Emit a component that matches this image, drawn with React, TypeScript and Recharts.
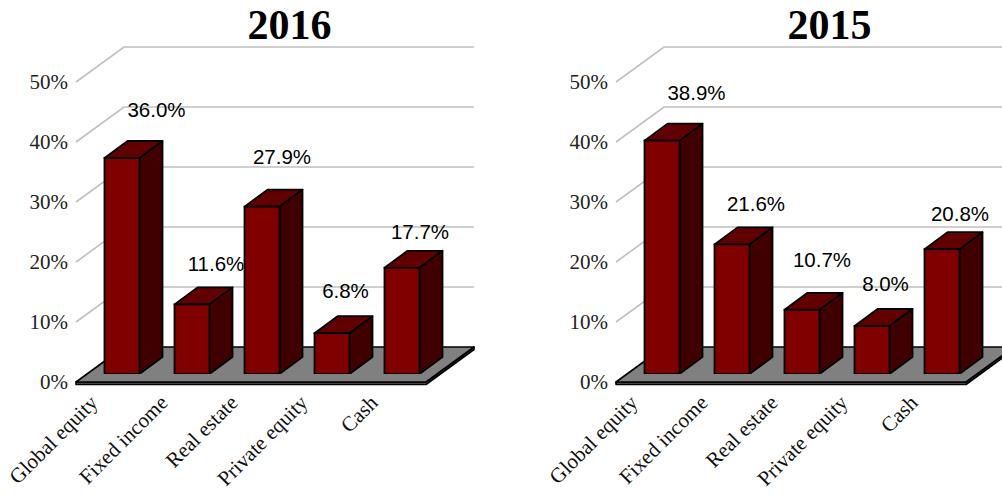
import React from 'react';
import { BarChart, Bar, XAxis, YAxis, CartesianGrid, LabelList } from 'recharts';

// ---- data ----
const categories = ['Global equity', 'Fixed income', 'Real estate', 'Private equity', 'Cash'];
const values2016 = [36.0, 11.6, 27.9, 6.8, 17.7];
const values2015 = [38.9, 21.6, 10.7, 8.0, 20.8];
const yTicks = [0, 10, 20, 30, 40, 50];
const panels = [
  { title: '2016', values: values2016 },
  { title: '2015', values: values2015 },
];

// ---- layout / style ----
const W = 540;
const H = 499;
const MARGIN = { top: 74, right: 103, left: 27, bottom: 0 };
const FLOOR_DX = 48;
const FLOOR_DY = 35;
const FRONT_DX = 11;
const FRONT_DY = 8;
const BAR_DX = 23;
const BAR_DY = 17;
const SLAB = 2.5;
const LABEL_DX = [34.5, 24, 20, 13.5, 18];
const LABEL_DY = [41, 33, 42.5, 35.5, 28.5];
const SERIF = '"Liberation Serif", "Times New Roman", Times, serif';
const SANS = '"Liberation Sans", Arial, Helvetica, sans-serif';

const Box3D = (props: any) => {
  const { x, y, width, height } = props;
  if (x == null || y == null) return null;
  const x2 = x + width;
  const yb = y + height;
  const sw = 1.8;
  return (
    <g>
      <polygon
        points={`${x},${y} ${x + BAR_DX},${y - BAR_DY} ${x2 + BAR_DX},${y - BAR_DY} ${x2},${y}`}
        fill="#600000" stroke="#000" strokeWidth={sw} strokeLinejoin="round"
      />
      <polygon
        points={`${x2},${y} ${x2 + BAR_DX},${y - BAR_DY} ${x2 + BAR_DX},${yb - BAR_DY} ${x2},${yb}`}
        fill="#400000" stroke="#000" strokeWidth={sw} strokeLinejoin="round"
      />
      <rect x={x} y={y} width={width} height={height} fill="#800000" stroke="#000" strokeWidth={sw} />
    </g>
  );
};

const GridLine = (p: any) => {
  const { x1, x2, y1, y, height } = p;
  const fx = x1 - FRONT_DX;
  const fy = y1 + FRONT_DY;
  const bx = fx + FLOOR_DX;
  const by = fy - FLOOR_DY;
  const rx = x2 - FRONT_DX;
  if (Math.abs(y1 - (y + height)) < 1) {
    return (
      <g key={p.key}>
        <polygon
          points={`${fx},${fy} ${rx},${fy} ${rx + FLOOR_DX},${by} ${rx + FLOOR_DX},${by + SLAB} ${rx},${fy + SLAB} ${fx},${fy + SLAB}`}
          fill="#5a5a5a" stroke="#000" strokeWidth={1.6} strokeLinejoin="round"
        />
        <polygon
          points={`${fx},${fy} ${rx},${fy} ${rx + FLOOR_DX},${by} ${bx},${by}`}
          fill="#808080" stroke="#000" strokeWidth={1.6} strokeLinejoin="round"
        />
      </g>
    );
  }
  return (
    <polyline
      key={p.key}
      points={`${fx},${fy} ${bx},${by} ${rx + FLOOR_DX},${by}`}
      fill="none" stroke="#c0c0c0" strokeWidth={1.6}
    />
  );
};

const YTick = (p: any) => {
  const { x, y, payload } = p;
  return (
    <text x={x - 11} y={y + FRONT_DY + 7} textAnchor="end" fontFamily={SERIF} fontSize={21} fill="#222">
      {`${payload.value}%`}
    </text>
  );
};

const XTick = (p: any) => {
  const { x, y, payload } = p;
  const ax = x - 23;
  const ay = y + 22;
  return (
    <text
      x={ax} y={ay} textAnchor="end" fontFamily={SERIF} fontSize={21} fill="#111"
      transform={`rotate(-45, ${ax}, ${ay})`}
    >
      {payload.value}
    </text>
  );
};

const ValueLabel = (p: any) => {
  const { x, y, width, value, index } = p;
  const cx = x + width / 2 + LABEL_DX[index];
  const by = y - LABEL_DY[index];
  return (
    <text x={cx} y={by} textAnchor="middle" fontFamily={SANS} fontSize={20.5} fill="#000">
      {`${Number(value).toFixed(1)}%`}
    </text>
  );
};

const Panel = ({ title, values }: { title: string; values: number[] }) => {
  const data = categories.map((c, i) => ({ name: c, value: values[i] }));
  return (
    <div style={{ position: 'relative', width: W, height: H, flex: 'none' }}>
      <BarChart width={W} height={H} data={data} margin={MARGIN} barCategoryGap="25%">
        <CartesianGrid vertical={false} horizontal={GridLine} />
        <XAxis dataKey="name" axisLine={false} tickLine={false} interval={0} height={125} tick={<XTick />} />
        <YAxis
          domain={[0, 50]} ticks={yTicks} width={60} axisLine={false} tickLine={false}
          tick={<YTick />} allowDataOverflow
        />
        <Bar dataKey="value" shape={<Box3D />} isAnimationActive={false}>
          <LabelList dataKey="value" content={<ValueLabel />} />
        </Bar>
      </BarChart>
      <svg width={W} height={60} style={{ position: 'absolute', left: 0, top: 0 }}>
        <text x={289.5} y={39} textAnchor="middle" fontFamily={SERIF} fontWeight="bold" fontSize={42} fill="#000">
          {title}
        </text>
      </svg>
    </div>
  );
}

export default function App() {
  return (
    <div
      style={{
        position: 'absolute', left: 0, top: 0, width: 1002, height: 499,
        overflow: 'hidden', display: 'flex', background: '#fff',
      }}
    >
      {panels.map((p) => (
        <Panel key={p.title} title={p.title} values={p.values} />
      ))}
    </div>
  );
}
